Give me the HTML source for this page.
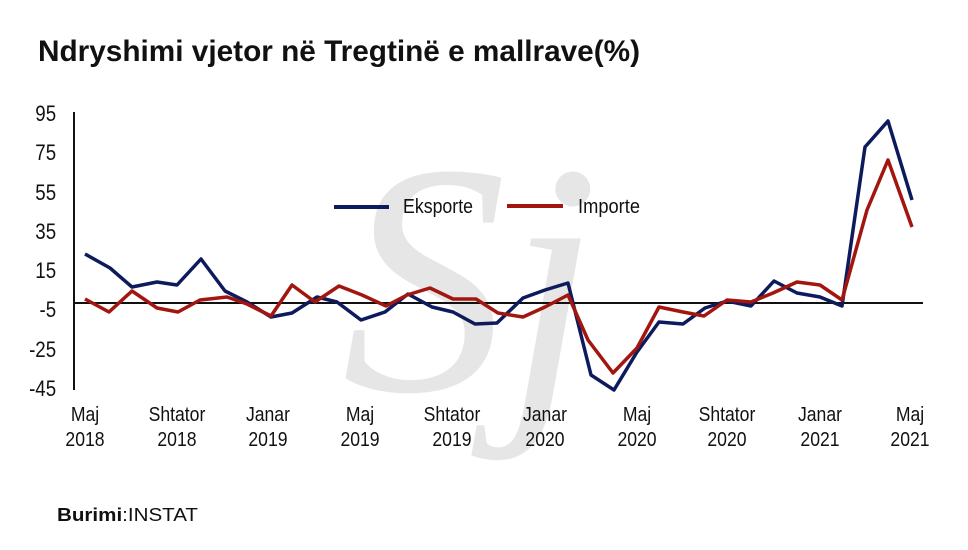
<!DOCTYPE html>
<html><head><meta charset="utf-8"><style>
html,body{margin:0;padding:0;background:#fff;}
svg{display:block;}
text{font-family:"Liberation Sans Narrow","Liberation Sans",sans-serif;fill:#111;}
</style></head><body>
<svg width="968" height="550" viewBox="0 0 968 550" xmlns="http://www.w3.org/2000/svg">
<rect width="968" height="550" fill="#fff"/>
<text x="470" y="390" font-size="330" text-anchor="middle" style="fill:#e6e6e6;font-family:'Liberation Serif',serif;font-style:italic">Sj</text>
<text x="38" y="61" font-size="30" font-weight="bold" textLength="602" lengthAdjust="spacingAndGlyphs">Ndryshimi vjetor në Tregtinë e mallrave(%)</text>
<g font-size="22" text-anchor="end" transform="scale(0.85,1)">
<text x="66" y="121">95</text>
<text x="66" y="160">75</text>
<text x="66" y="200">55</text>
<text x="66" y="239">35</text>
<text x="66" y="278">15</text>
<text x="66" y="317">-5</text>
<text x="66" y="357">-25</text>
<text x="66" y="396">-45</text>
</g>
<line x1="74" y1="112" x2="74" y2="390" stroke="#111" stroke-width="2"/>
<line x1="74" y1="303" x2="923" y2="303" stroke="#111" stroke-width="2"/>
<g font-size="20" text-anchor="middle" transform="scale(0.88,1)">
<text x="96.6" y="421">Maj</text><text x="96.6" y="446">2018</text>
<text x="201.1" y="421">Shtator</text><text x="201.1" y="446">2018</text>
<text x="304.5" y="421">Janar</text><text x="304.5" y="446">2019</text>
<text x="409.1" y="421">Maj</text><text x="409.1" y="446">2019</text>
<text x="513.6" y="421">Shtator</text><text x="513.6" y="446">2019</text>
<text x="619.3" y="421">Janar</text><text x="619.3" y="446">2020</text>
<text x="723.9" y="421">Maj</text><text x="723.9" y="446">2020</text>
<text x="826.1" y="421">Shtator</text><text x="826.1" y="446">2020</text>
<text x="931.8" y="421">Janar</text><text x="931.8" y="446">2021</text>
<text x="1034.1" y="421">Maj</text><text x="1034.1" y="446">2021</text>
</g>
<polyline fill="none" stroke="#0d1a5c" stroke-width="3.5" stroke-linejoin="round" points="85,254 110,268 132,287 157,282 177,285 201,259 225,291 247,302 271,317 292,313 317,297 337,302 361,320 385,312 408,294 432,307 453,312 475,324 497,323 523,298 545,290 568,283 591,375 614,390 637,352 659,322 683,324 705,308 727,301 751,306 774,281 797,293 820,297 842,306 865,147 888,121 912,200"/>
<polyline fill="none" stroke="#a3160f" stroke-width="3.5" stroke-linejoin="round" points="85,299 109,312 132,291 157,308 178,312 200,300 227,297 247,304 271,316 292,285 315,302 339,286 362,295 386,306 407,295 430,288 453,299 476,299 498,313 523,317 545,307 568,295 588,340 613,373 637,348 659,307 683,312 704,316 727,300 751,302 773,293 797,282 820,285 842,300 867,210 888,160 912,227"/>
<line x1="334" y1="207" x2="389" y2="207" stroke="#0d1a5c" stroke-width="4"/>
<text x="403" y="213" font-size="20" textLength="70" lengthAdjust="spacingAndGlyphs">Eksporte</text>
<line x1="507" y1="206" x2="563" y2="206" stroke="#a3160f" stroke-width="4"/>
<text x="578" y="213" font-size="20" textLength="62" lengthAdjust="spacingAndGlyphs">Importe</text>
<text x="57" y="521" font-size="18" textLength="141" lengthAdjust="spacingAndGlyphs"><tspan font-weight="bold">Burimi</tspan>:INSTAT</text>
</svg>
</body></html>
